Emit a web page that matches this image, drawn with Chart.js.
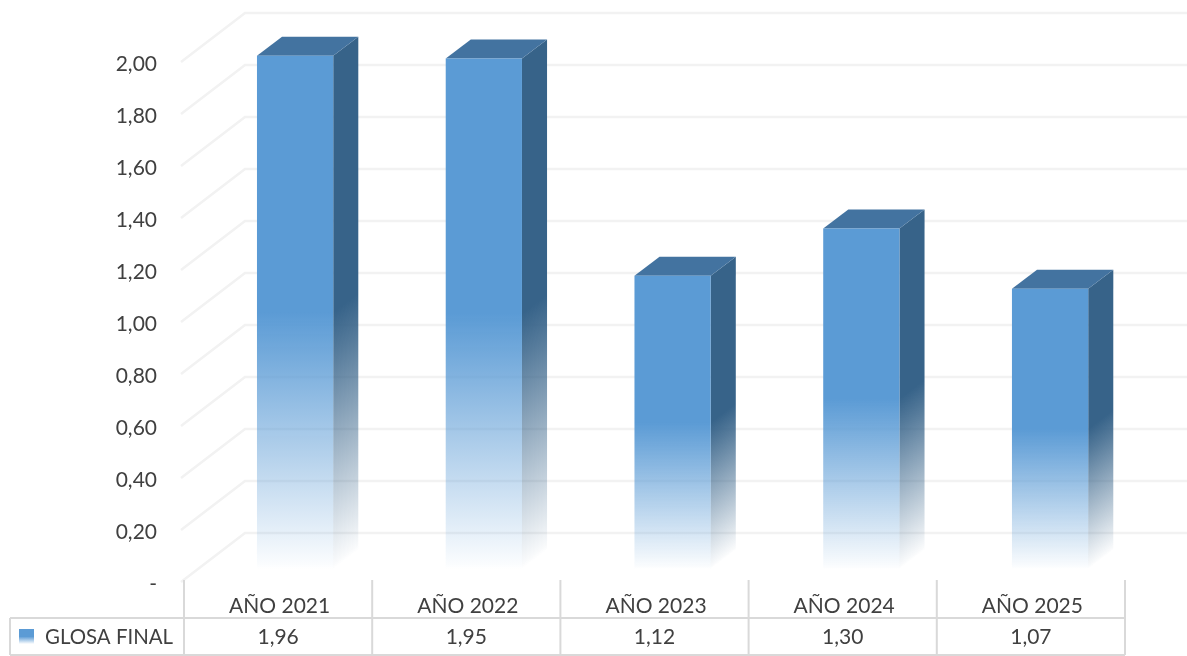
<!DOCTYPE html>
<html>
<head>
<meta charset="utf-8">
<style>
  html, body { margin: 0; padding: 0; background: #fff; }
  canvas { display: block; }
</style>
<script src="https://cdn.jsdelivr.net/npm/chart.js@4"></script>
</head>
<body>
<canvas id="chart" width="1187" height="656"></canvas>
<script>
const categories = ['AÑO 2021', 'AÑO 2022', 'AÑO 2023', 'AÑO 2024', 'AÑO 2025'];
const seriesName = 'GLOSA FINAL';
const glosaFinal = [1.96, 1.95, 1.12, 1.30, 1.07];
const topTick = 2;

const FONT = '21px Lato, Carlito, sans-serif';
const TEXT = '#404040';
const GRID = '#f2f2f2';
const TABLE = '#d9d9d9';
const DEPTH_X = 25, DEPTH_Y = 19;   // bar depth
const WALL_X = 61, WALL_Y = 49;     // side wall of the 3d box
const LABEL_DROP = 2;               // tick labels sit just under the wall lines
const BAR_SPREAD = 1.0029;          // columns sit a touch wider apart than the table

const fmt = v => v.toFixed(2).replace('.', ',');

function fade(ctx, y0, y1, rgb) {
  const g = ctx.createLinearGradient(0, y0, 0, y1);
  g.addColorStop(0, `rgba(${rgb},1)`);
  g.addColorStop(0.5, `rgba(${rgb},1)`);
  g.addColorStop(0.58, `rgba(${rgb},0.85)`);
  g.addColorStop(0.99, `rgba(${rgb},0.03)`);
  g.addColorStop(1, `rgba(${rgb},0)`);
  return g;
}

const wallPlugin = {
  id: 'wall',
  beforeDatasetsDraw(chart) {
    const { ctx, chartArea, scales } = chart;
    ctx.save();
    ctx.strokeStyle = GRID;
    ctx.lineWidth = 2.5;
    scales.y.ticks.forEach(t => {
      const py = scales.y.getPixelForValue(t.value) - LABEL_DROP;
      ctx.beginPath();
      ctx.moveTo(chartArea.left - 3, py);
      ctx.lineTo(chartArea.left + WALL_X, py - WALL_Y);
      ctx.lineTo(chart.width, py - WALL_Y);
      ctx.stroke();
    });
    ctx.restore();
  }
};

const barShiftPlugin = {
  id: 'barShift',
  beforeDatasetDraw(chart) {
    const ctx = chart.ctx;
    ctx.save();
    ctx.translate(295 - 278 * BAR_SPREAD, 0);
    ctx.scale(BAR_SPREAD, 1);
    // side and top faces first, the front is the real bar
    chart.getDatasetMeta(0).data.forEach(bar => {
      const left = bar.x - bar.width / 2, right = bar.x + bar.width / 2;
      const h = bar.base - bar.y;
      ctx.save();
      ctx.transform(1, -DEPTH_Y / DEPTH_X, 0, 1, right, bar.y);
      ctx.fillStyle = fade(ctx, 0, h, '55,99,137');
      ctx.fillRect(0, 0, DEPTH_X, h);
      ctx.restore();
      ctx.fillStyle = '#4373a0';
      ctx.beginPath();
      ctx.moveTo(left, bar.y);
      ctx.lineTo(left + DEPTH_X, bar.y - DEPTH_Y);
      ctx.lineTo(right + DEPTH_X, bar.y - DEPTH_Y);
      ctx.lineTo(right, bar.y);
      ctx.closePath();
      ctx.fill();
    });
  },
  afterDatasetDraw(chart) {
    chart.ctx.restore();
  }
};

const tablePlugin = {
  id: 'dataTable',
  afterDraw(chart) {
    const { ctx, scales } = chart;
    const x = scales.x;
    const colW = x.width / categories.length;
    const rowTop = 618, rowBottom = 655, headTop = 580, tableLeft = 10;
    ctx.save();
    ctx.strokeStyle = TABLE;
    ctx.lineWidth = 2;
    ctx.beginPath();
    for (let i = 0; i <= categories.length; i++) {
      const px = x.left + i * colW;
      ctx.moveTo(px, headTop);
      ctx.lineTo(px, rowBottom);
    }
    ctx.moveTo(tableLeft, rowTop);
    ctx.lineTo(x.right, rowTop);
    ctx.moveTo(tableLeft, rowBottom);
    ctx.lineTo(x.right, rowBottom);
    ctx.moveTo(tableLeft, rowTop);
    ctx.lineTo(tableLeft, rowBottom);
    ctx.stroke();

    ctx.font = FONT;
    ctx.fillStyle = TEXT;
    ctx.textBaseline = 'middle';
    ctx.textAlign = 'center';
    glosaFinal.forEach((v, i) => {
      ctx.fillText(fmt(v), x.getPixelForTick(i), 637);
    });
    ctx.textAlign = 'left';
    ctx.fillText(seriesName, 45, 637, 128);

    const g = ctx.createLinearGradient(0, 629, 0, 644);
    g.addColorStop(0, '#5b9bd5');
    g.addColorStop(0.5, '#5b9bd5');
    g.addColorStop(1, '#ffffff');
    ctx.fillStyle = g;
    ctx.fillRect(19, 629, 15, 15);
    ctx.restore();
  }
};

new Chart(document.getElementById('chart'), {
  type: 'bar',
  data: {
    labels: categories,
    datasets: [{
      label: seriesName,
      data: glosaFinal,
      yAxisID: 'yBars',
      categoryPercentage: 1,
      barPercentage: 0.404,
      backgroundColor: c => {
        const yb = c.chart.scales.yBars;
        const top = yb ? yb.getPixelForValue(c.raw) : NaN;
        const bottom = yb ? yb.getPixelForValue(0) : NaN;
        if (!Number.isFinite(top) || !Number.isFinite(bottom)) return '#5b9bd5';
        return fade(c.chart.ctx, top, bottom, '91,155,213');
      }
    }]
  },
  options: {
    responsive: false,
    animation: false,
    layout: { padding: { top: 11, right: 62, left: 0, bottom: 0 } },
    plugins: { legend: { display: false }, tooltip: { enabled: false } },
    scales: {
      x: {
        grid: { display: false },
        border: { display: false },
        afterFit: s => { s.height = 72; },
        ticks: { color: TEXT, font: { family: 'Lato', size: 21 }, padding: 2, labelOffset: 1.5, maxRotation: 0 }
      },
      y: {
        min: 0,
        max: 2.204,
        grid: { display: false },
        border: { display: false },
        afterBuildTicks: s => { s.ticks = s.ticks.filter(t => t.value <= topTick + 0.001); },
        afterFit: s => { s.width = 184; s.paddingTop = 0; s.paddingBottom = 0; },
        ticks: {
          stepSize: 0.2,
          includeBounds: false,
          color: TEXT,
          font: { family: 'Lato', size: 21 },
          padding: 19,
          callback: v => (v === 0 ? '-' : fmt(v))
        }
      },
      // front plane of the columns sits higher than the labelled axis
      yBars: { display: false, min: -0.0573, max: 2.131, afterFit: s => { s.paddingTop = 0; s.paddingBottom = 0; } }
    }
  },
  plugins: [wallPlugin, barShiftPlugin, tablePlugin]
});
</script>
</body>
</html>
